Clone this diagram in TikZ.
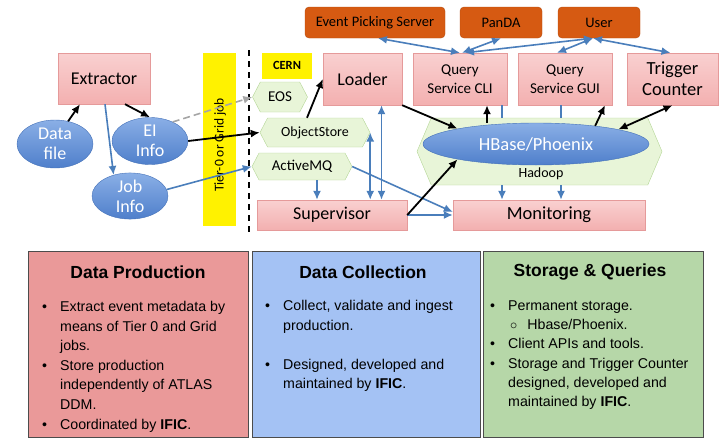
\documentclass[tikz,border=0pt]{standalone}
\usepackage{fontspec}
\setmainfont{Carlito}
\newfontfamily\docfont{Liberation Sans}
\usetikzlibrary{shapes.geometric,shapes.symbols,arrows.meta}

\definecolor{pinktop}{HTML}{F9D0D0}
\definecolor{pinkbot}{HTML}{F3B0B0}
\definecolor{pinkline}{HTML}{E59A9A}
\definecolor{elltop}{HTML}{8AAFE6}
\definecolor{ellbot}{HTML}{4F7FCB}
\definecolor{ellline}{HTML}{4471B8}
\definecolor{hexfill}{HTML}{E8F5D8}
\definecolor{hexline}{HTML}{B3D595}
\definecolor{extfill}{HTML}{D65A12}
\definecolor{extline}{HTML}{B54B0E}
\definecolor{arrblue}{HTML}{4A7EBB}
\definecolor{prodfill}{HTML}{EA9999}
\definecolor{collfill}{HTML}{A4C2F4}
\definecolor{storfill}{HTML}{B6D7A8}

\tikzset{
  box/.style={draw=pinkline, top color=pinktop, bottom color=pinkbot, inner sep=0pt, align=center, font=\fontsize{18}{19}\selectfont},
  info/.style={ellipse, draw=ellline, top color=elltop, bottom color=ellbot, inner sep=0pt, align=center, text=white, font=\fontsize{18}{20}\selectfont},
  hexa/.style={signal, signal to=east and west, signal pointer angle=125, draw=hexline, fill=hexfill, inner sep=0pt, font=\fontsize{14}{16}\selectfont},
  ext/.style={rounded corners=4pt, draw=extline, fill=extfill, inner sep=0pt, font=\fontsize{14.5}{16}\selectfont},
  panel/.style={draw=black!70, line width=0.8pt, inner sep=0pt},
  ptitle/.style={font=\docfont\bfseries\fontsize{17.5}{20}\selectfont},
  ptext/.style={anchor=north west, inner sep=0pt, align=left, font=\docfont\fontsize{14.2}{19.6}\selectfont},
  blk/.style={-{Latex[length=9pt,width=8pt]}, line width=1.8pt, black},
  blu/.style={-{Latex[length=9pt,width=8pt]}, line width=1.6pt, arrblue},
  both/.style={{Latex[length=9pt,width=8pt]}-{Latex[length=9pt,width=8pt]}},
}

\begin{document}
\begin{tikzpicture}[x=1pt,y=-1pt]
\useasboundingbox (0,0) rectangle (719,439);

\node[box, minimum width=92pt, minimum height=51pt] (extractor) at (104,78.5) {Extractor};
\node[info, minimum width=76pt, minimum height=48pt] (datafile) at (55,144) {Data\\file};
\node[info, minimum width=76pt, minimum height=47pt] (eiinfo) at (150,141) {EI\\Info};
\node[info, minimum width=76pt, minimum height=45pt] (jobinfo) at (130,196) {Job\\Info};

\node[fill=yellow, minimum width=33pt, minimum height=173pt, inner sep=0pt] (tier) at (219,139) {};
\node[rotate=90, font=\fontsize{13.5}{15}\selectfont] (tierlbl) at (220,145) {Tier-0 or Grid job};
\draw[line width=1.8pt, dash pattern=on 6pt off 5pt] (249,50) -- (249,236);

\node[fill=yellow, minimum width=50pt, minimum height=26pt, inner sep=0pt, font=\bfseries\fontsize{12.5}{14}\selectfont] (cern) at (287,65.5) {CERN};
\node[hexa, minimum width=55pt, minimum height=30pt, font=\fontsize{15}{16}\selectfont] (eos) at (280,97) {EOS};
\node[hexa, minimum width=110pt, minimum height=29pt] (objstore) at (315,132.5) {ObjectStore};
\node[hexa, minimum width=100pt, minimum height=27pt, font=\fontsize{15}{16}\selectfont] (activemq) at (302,166.5) {ActiveMQ};
\node[box, minimum width=79pt, minimum height=52pt] (loader) at (362.5,79) {Loader};
\node[box, minimum width=150pt, minimum height=30pt] (supervisor) at (332,215) {Supervisor};

\node[ext, minimum width=140pt, minimum height=31pt] (eps) at (375,22.5) {Event Picking Server};
\node[ext, minimum width=82pt, minimum height=31pt] (panda) at (501,22.5) {PanDA};
\node[ext, minimum width=82pt, minimum height=31pt] (user) at (599,22.5) {User};
\node[box, minimum width=94pt, minimum height=52pt, font=\fontsize{15}{19}\selectfont] (qcli) at (460,79) {Query\\Service CLI};
\node[box, minimum width=94pt, minimum height=52pt, font=\fontsize{15}{19}\selectfont] (qgui) at (565,79) {Query\\Service GUI};
\node[box, minimum width=91pt, minimum height=52pt, font=\fontsize{18.5}{21}\selectfont] (trig) at (672.5,79) {Trigger\\Counter};

\node[hexa, signal pointer angle=134, minimum width=245pt, minimum height=67pt] (hadoop) at (539.5,151.5) {};
\node[info, minimum width=226pt, minimum height=42pt, font=\fontsize{18.5}{20}\selectfont] (hbase) at (536,144) {HBase/Phoenix};
\node[font=\fontsize{14}{16}\selectfont] (hadooplbl) at (541,174) {Hadoop};
\node[box, minimum width=192pt, minimum height=30pt, font=\fontsize{18.5}{19}\selectfont] (monitoring) at (549,215) {Monitoring};

\coordinate (uj) at ([xshift=-6pt]user.south);

\draw[blk] (datafile.60) -- ([xshift=-24pt]extractor.south);
\draw[blk] ([xshift=21pt]extractor.south) -- (eiinfo.north);
\draw[blu] ([xshift=1pt]extractor.south) -- (jobinfo.128);
\draw[-{Latex[length=9pt,width=8pt]}, line width=1.6pt, gray!70, dash pattern=on 7pt off 4pt] (eiinfo.40) -- (eos.west);
\draw[blk] (eiinfo.east) -- (objstore.west);
\draw[blu] (jobinfo.10) -- (activemq.west);
\draw[blk] ([xshift=-8pt]objstore.north) -- (loader.west);
\draw[blu, both] ([xshift=19pt]loader.south) -- ([xshift=19pt]loader.south |- supervisor.north);
\draw[blu, both] (objstore.east) -- (objstore.east |- supervisor.north);
\draw[blu] ([xshift=15pt]activemq.south) -- ([xshift=15pt]activemq.south |- supervisor.north);
\draw[blu] (activemq.east) -- ([yshift=3pt]monitoring.west);
\draw[blu] (supervisor.east) -- (monitoring.west);
\draw[blk] (supervisor.east) -- (hbase.191);
\draw[blk] (loader.south east) -- (hbase.169);
\draw[blk] ([xshift=27pt]qcli.south |- hbase.north) -- ([xshift=27pt]qcli.south);
\draw[arrblue, line width=1.6pt] ([xshift=42pt]qcli.south) -- ([xshift=42pt]qcli.south |- hadoop.north);
\draw[arrblue, line width=1.6pt] ([xshift=-4pt]qgui.south) -- ([xshift=-4pt]qgui.south |- hadoop.north);
\draw[blk] (hbase.17) -- ([xshift=40pt]qgui.south);
\draw[blk, both] (hbase.10) -- (trig.south);
\draw[blu] ([xshift=-47pt]monitoring.north |- hadoop.south) -- ([xshift=-47pt]monitoring.north);
\draw[blu] ([xshift=12pt]monitoring.north |- hadoop.south) -- ([xshift=12pt]monitoring.north);

\draw[blu, both] ([xshift=3pt]eps.south) -- (qcli.north);
\draw[blu, both] (panda.south) -- ([xshift=2pt]qcli.north);
\draw[blu, both] (uj) -- ([xshift=5pt]qcli.north);
\draw[blu, both] (uj) -- ([xshift=-8pt]qgui.north);
\draw[blu, both] (uj) -- ([xshift=-2pt]trig.north);

% bottom panels
\node[panel, fill=prodfill, minimum width=220pt, minimum height=186pt] (prod) at (138,344) {};
\node[panel, fill=collfill, minimum width=228pt, minimum height=186pt] (coll) at (366,344) {};
\node[panel, fill=storfill, minimum width=220pt, minimum height=186pt] (stor) at (593,344) {};
\node[ptitle] (prodtitle) at (138,272) {Data Production};
\node[ptitle] (colltitle) at (363,272) {Data Collection};
\node[ptitle] (stortitle) at (590,272) {Storage \& Queries};
\node[ptext] (prodtext) at (42,297.5) {\begin{tabular}{@{}p{18pt}@{}l@{}}
\textbullet & Extract event metadata by\\ & means of Tier 0 and Grid\\ & jobs.\\
\textbullet & Store production\\ & independently of ATLAS\\ & DDM.\\
\textbullet & Coordinated by \textbf{IFIC}.
\end{tabular}};
\node[ptext] (colltext) at (265,296.5) {\begin{tabular}{@{}p{18pt}@{}l@{}}
\textbullet & Collect, validate and ingest\\ & production.\\ & \\
\textbullet & Designed, developed and\\ & maintained by \textbf{IFIC}.
\end{tabular}};
\node[ptext, font=\docfont\fontsize{14.2}{19.3}\selectfont] (stortext) at (490,296.5) {\begin{tabular}{@{}p{18pt}@{}l@{}}
\textbullet & Permanent storage.\\ & \hspace{2pt}$\circ$\hspace{10pt}Hbase/Phoenix.\\
\textbullet & Client APIs and tools.\\
\textbullet & Storage and Trigger Counter\\ & designed, developed and\\ & maintained by \textbf{IFIC}.
\end{tabular}};
\end{tikzpicture}
\end{document}
